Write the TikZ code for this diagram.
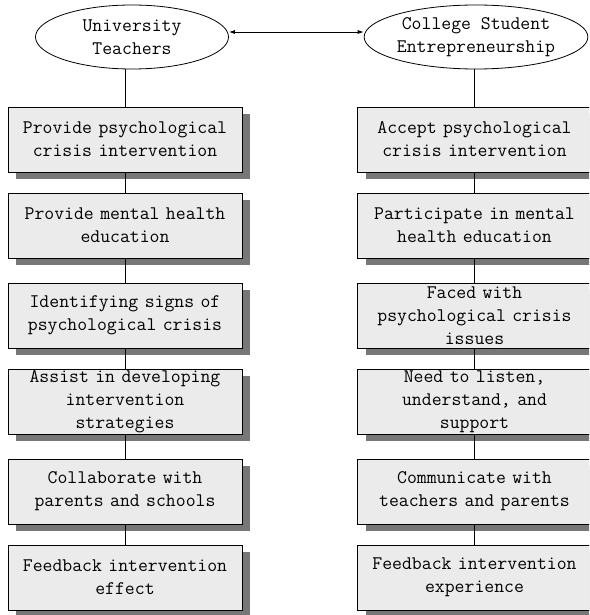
\documentclass[tikz,border=0pt]{standalone}
\usepackage{fontspec}
\usetikzlibrary{shadows,arrows.meta,shapes.geometric}
\definecolor{boxfill}{HTML}{EBEBEB}
\definecolor{shadowgray}{HTML}{777777}
\begin{document}
\begin{tikzpicture}[x=1pt,y=-1pt,
  txt/.style={font=\ttfamily\fontsize{19.2}{23}\selectfont, align=center},
  stepbox/.style={txt, draw=black, line width=0.8pt, fill=boxfill,
    minimum width=234pt, minimum height=65pt, inner sep=0pt, text width=232pt,
    drop shadow={shadow xshift=8pt, shadow yshift=-7pt, fill=shadowgray, opacity=1}},
  actor/.style={txt, draw=black, line width=0.8pt, ellipse, minimum width=193pt,
    minimum height=64pt, inner sep=0pt},
  conn/.style={line width=0.8pt}]
\useasboundingbox (0,0) rectangle (589,615);
\clip (0,0) rectangle (589,615);
\node[actor] (t) at (132,37) {University\\Teachers};
\node[actor] (s) at (476,37) {College Student\\Entrepreneurship};
\draw[conn, {Latex[length=6pt,width=4pt]}-{Latex[length=6pt,width=4pt]}] (t.east |- 0,32) -- (s.west |- 0,32);

\node[stepbox] (l1) at (125,139.5) {Provide psychological\\crisis intervention};
\node[stepbox] (l2) at (125,225.5) {Provide mental health\\education};
\node[stepbox] (l3) at (125,315.5) {Identifying signs of\\psychological crisis};
\node[stepbox] (l4) at (125,401.5) {Assist in developing\\intervention\\strategies};
\node[stepbox] (l5) at (125,491.5) {Collaborate with\\parents and schools};
\node[stepbox] (l6) at (125,577.5) {Feedback intervention\\effect};

\node[stepbox] (r1) at (474.5,139.5) {Accept psychological\\crisis intervention};
\node[stepbox] (r2) at (474.5,225.5) {Participate in mental\\health education};
\node[stepbox] (r3) at (474.5,315.5) {Faced with\\psychological crisis\\issues};
\node[stepbox] (r4) at (474.5,401.5) {Need to listen,\\understand, and\\support};
\node[stepbox] (r5) at (474.5,491.5) {Communicate with\\teachers and parents};
\node[stepbox] (r6) at (474.5,577.5) {Feedback intervention\\experience};

\draw[conn] (l1.north) -- (l1.north |- t.south);
\draw[conn] (r1.north) -- (r1.north |- s.south);
\foreach \a/\b in {l1/l2,l2/l3,l3/l4,l4/l5,l5/l6,r1/r2,r2/r3,r3/r4,r4/r5,r5/r6}
  \draw[conn] (\a.south) -- (\b.north);
\end{tikzpicture}
\end{document}
